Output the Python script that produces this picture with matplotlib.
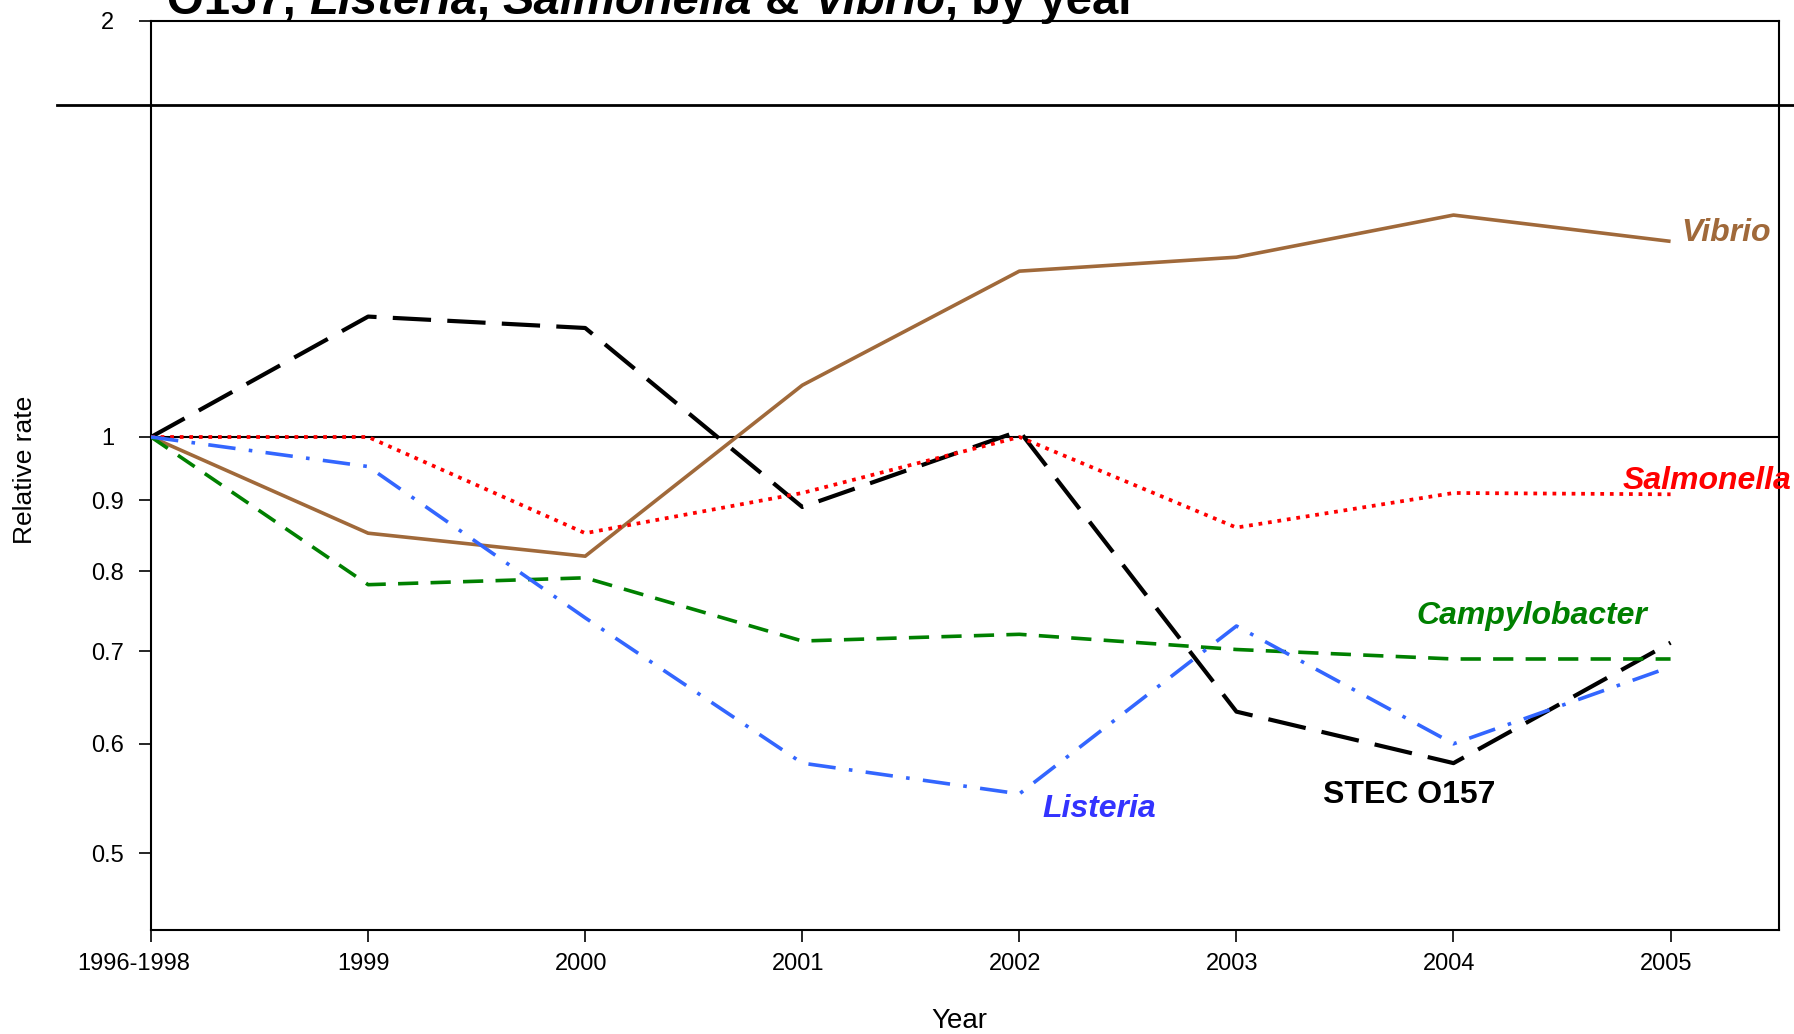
import matplotlib
matplotlib.use("Agg")
import matplotlib.pyplot as plt
from matplotlib.lines import Line2D
from matplotlib.transforms import ScaledTranslation
import numpy as np

plt.rcParams['font.family'] = ['Liberation Sans', 'DejaVu Sans']

categories = ["1996-1998", "1999", "2000", "2001", "2002", "2003", "2004", "2005"]
vibrio = [1.0, 0.852, 0.820, 1.090, 1.318, 1.349, 1.447, 1.385]
stec = [1.0, 1.222, 1.199, 0.890, 1.010, 0.633, 0.581, 0.710]
salmonella = [1.0, 1.0, 0.852, 0.911, 1.0, 0.860, 0.911, 0.909]
campylobacter = [1.0, 0.782, 0.791, 0.712, 0.720, 0.702, 0.691, 0.691]
listeria = [1.0, 0.952, 0.740, 0.581, 0.552, 0.730, 0.600, 0.682]
yticks = [0.5, 0.6, 0.7, 0.8, 0.9, 1, 2]
ytick_labels = ["0.5", "0.6", "0.7", "0.8", "0.9", "1", "2"]

fig = plt.figure(figsize=(17.94, 10.34), dpi=100)
ax = fig.add_axes([0.0842, 0.1005, 0.9917 - 0.0842, 0.980 - 0.1005])
x = np.arange(len(categories))

ax.axhline(1.0, color='black', lw=1.5, zorder=1)
ax.plot(x, vibrio, color='#A0693A', lw=2.6, solid_capstyle='butt', zorder=3)
ax.plot(x, stec, color='black', lw=3.0, linestyle=(0, (9.2, 3.9)), dash_capstyle='butt', zorder=3)
ax.plot(x, salmonella, color='#FF0000', lw=2.7, linestyle=(0, (1.0, 1.55)), dash_capstyle='butt', zorder=3)
ax.plot(x, campylobacter, color='#008000', lw=2.6, linestyle=(0, (5.6, 3.4)), dash_capstyle='butt', zorder=3)
ax.plot(x, listeria, color='#3366FF', lw=2.6, linestyle=(0, (7.6, 3.7, 1.0, 3.7)), dash_capstyle='butt', zorder=3)

ax.set_yscale('log')
ax.set_ylim(0.44, 2.0)
ax.set_xlim(0, 7.5)
ax.set_yticks(yticks)
ax.set_yticklabels(ytick_labels)
ax.yaxis.set_minor_locator(matplotlib.ticker.NullLocator())
ax.set_xticks(x)
ax.set_xticklabels(categories)
ax.tick_params(axis='both', direction='out', length=8.6, width=1.2, labelsize=17, color='black')
ax.tick_params(axis='x', pad=8.0)
ax.tick_params(axis='y', pad=22.5)
for lab in ax.get_yticklabels():
    lab.set_horizontalalignment('center')
for i, lab in enumerate(ax.get_xticklabels()):
    dx = -17 if i == 0 else -4.5
    lab.set_transform(lab.get_transform() + ScaledTranslation(dx / 100, 0, fig.dpi_scale_trans))
for sp in ax.spines.values():
    sp.set_linewidth(1.5)
    sp.set_color('black')

lab_kw = dict(fontsize=23, fontweight='bold', va='center', ha='left', clip_on=False)
ax.text(7.05, 1.405, "Vibrio", color='#A0693A', style='italic', **lab_kw)
ax.text(6.78, 0.930, "Salmonella", color='#FF0000', style='italic', **lab_kw)
ax.text(5.83, 0.742, "Campylobacter", color='#008000', style='italic', **lab_kw)
ax.text(4.106, 0.538, "Listeria", color='#3333FF', style='italic', **lab_kw)
ax.text(5.40, 0.551, "STEC O157", color='black', **lab_kw)

fig.text(0.014, 0.546, "Relative rate", rotation=90, fontsize=19, ha='center', va='center')
fig.text(0.5345, 0.0125, "Year", fontsize=20, ha='center', va='center')

# separator line of the slide
fig.add_artist(Line2D([0.032, 1.0], [0.898, 0.898], color='black', lw=2.0, transform=fig.transFigure))

# title (partially cut off at the top)
pieces = [("O157, ", 'normal'), ("Listeria", 'italic'), (", ", 'normal'),
          ("Salmonella", 'italic'), (" & ", 'normal'), ("Vibrio", 'italic'),
          (", by year", 'normal')]
renderer = fig.canvas.get_renderer()
xpos = 0.093
for s, st in pieces:
    t = fig.text(xpos, 0.9865, s, fontsize=34, fontweight='bold', style=st,
                 ha='left', va='baseline')
    bb = t.get_window_extent(renderer=renderer)
    xpos += bb.width / fig.bbox.width

fig.savefig("out.png", dpi=100)
